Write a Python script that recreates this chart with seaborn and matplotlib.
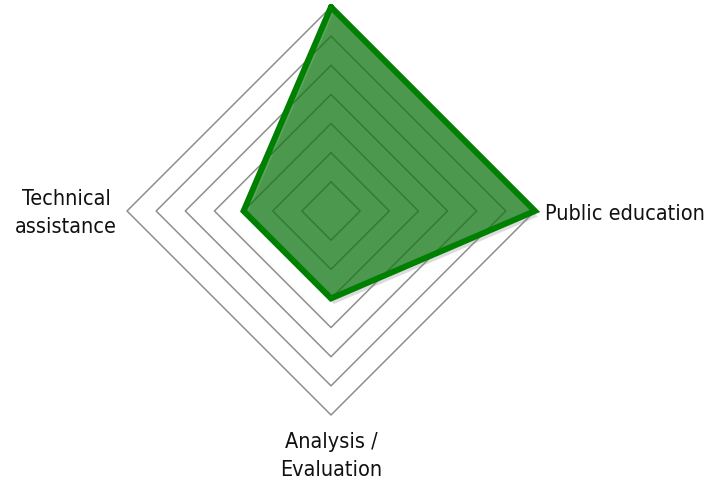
import numpy as np
import pandas as pd
import seaborn as sns
import matplotlib.pyplot as plt
from matplotlib import patheffects as pe

# radar data (clockwise from top)
categories = ["", "Public education", "Analysis /\nEvaluation", "Technical\nassistance"]
values = [7, 7, 3, 3]
levels = [1, 2, 3, 4, 5, 6, 7]

sns.set_style("white")
plt.rcParams["font.family"] = ["DejaVu Sans"]
plt.rcParams["font.stretch"] = "condensed"

angles = np.linspace(0, 2 * np.pi, len(categories), endpoint=False)

def to_xy(r, a):
    return r * np.sin(a), r * np.cos(a)

fig = plt.figure(figsize=(7.24, 4.84), dpi=100)
ax = fig.add_axes([0, 0, 1, 1])
scale = 29.14  # px per unit
xlim = (-331 / scale, (724 - 331) / scale)
ylim = (-273 / scale, 211 / scale)

# grid diamonds
for lv in levels:
    a = np.append(angles, angles[0])
    gx, gy = to_xy(np.full(len(a), lv), a)
    ax.plot(gx, gy, color="#8e8e8e", lw=1.1, zorder=1)

# the series
a = np.append(angles, angles[0])
v = np.append(values, values[0])
px, py = to_xy(v, a)
df = pd.DataFrame({"x": px, "y": py})
ax.fill(df["x"], df["y"], color="#007504", alpha=0.65, lw=0, zorder=2,
        path_effects=[pe.SimplePatchShadow(offset=(2, -4), shadow_rgbFace="#888888", alpha=0.3), pe.Normal()])
sns.lineplot(data=df, x="x", y="y", sort=False, estimator=None, color="#008000",
             lw=4.3, ax=ax, zorder=3)
ax.lines[-1].set_solid_joinstyle("miter")
ax.set_xlim(*xlim)
ax.set_ylim(*ylim)
ax.set_axis_off()

# category labels, one text per line, placed on baselines
fs = 15.5
def label(txt, x, ys, ha):
    for line, y in zip(txt.split("\n"), ys):
        ax.text(x, y, line, ha=ha, va="baseline", fontsize=fs, color="#111111")

label(categories[1], 7.34, [-0.31], "left")
label(categories[2], 0, [-8.13, -9.09], "center")
label(categories[3], -9.09, [0.216, -0.755], "center")

plt.savefig("out.png", dpi=100)
